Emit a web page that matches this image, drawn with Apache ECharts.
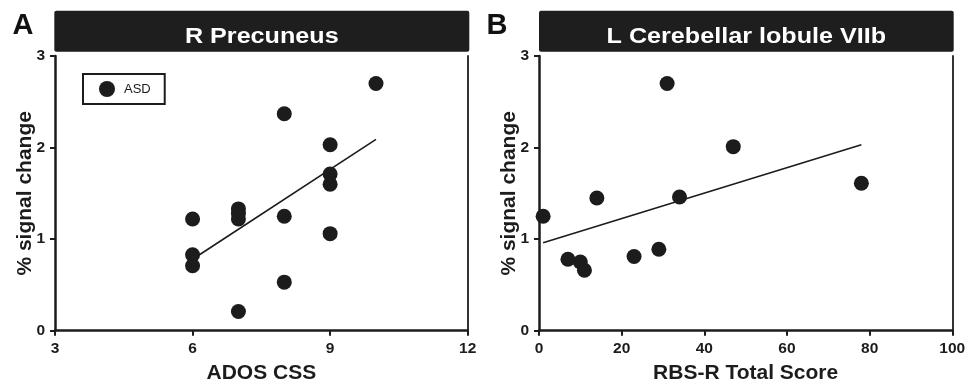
<!DOCTYPE html>
<html>
<head>
<meta charset="utf-8">
<script src="https://cdn.jsdelivr.net/npm/echarts@6/dist/echarts.min.js"></script>
<style>html,body{margin:0;padding:0;background:#fff}#c{width:967px;height:381px}</style>
</head>
<body>
<div id="c"></div>
<script>
// ---- data ----
const adosCss = [10, 8, 9, 9, 9, 6, 7, 7, 7, 8, 9, 6, 6, 8, 7];
const precuneusSignal = [2.70, 2.37, 2.03, 1.71, 1.60, 1.22, 1.33, 1.28, 1.22, 1.25, 1.06, 0.83, 0.71, 0.53, 0.21];
const precuneusFitX = [6, 10];
const precuneusFitY = [0.78, 2.09];

const rbsTotal = [31, 47, 78, 14, 34, 1, 7, 10, 11, 23, 29];
const cerebellarSignal = [2.70, 2.01, 1.61, 1.45, 1.46, 1.25, 0.78, 0.75, 0.66, 0.81, 0.89];
const cerebellarFitX = [1, 78];
const cerebellarFitY = [0.96, 2.03];

const panelTitles = ['R Precuneus', 'L Cerebellar lobule VIIb'];
const panelLetters = ['A', 'B'];
const xNames = ['ADOS CSS', 'RBS-R Total Score'];
const yName = '% signal change';
const groupName = 'ASD';

const ink = '#1c1c1c';
const FONT = '"Liberation Sans", Arial, Helvetica, sans-serif';

function pairs(xs, ys) { return xs.map((x, i) => [x, ys[i]]); }

const chart = echarts.init(document.getElementById('c'), null, {renderer: 'canvas'});

function xAxisCfg(gi, min, max, interval, name) {
  return {
    gridIndex: gi, type: 'value', min, max, interval,
    name, nameLocation: 'middle', nameGap: 32,
    nameTextStyle: {fontFamily: FONT, fontWeight: 'bold', fontSize: 21, color: ink},
    axisLine: {show: true, onZero: false, lineStyle: {color: ink, width: 2.5}},
    axisTick: {show: true, length: 5, lineStyle: {color: ink, width: 2}},
    axisLabel: {margin: 10, fontFamily: FONT, fontWeight: 'bold', fontSize: 15.5, color: ink},
    splitLine: {show: false}
  };
}
function yAxisCfg(gi) {
  return {
    gridIndex: gi, type: 'value', min: 0, max: 3, interval: 1,
    name: yName, nameLocation: 'middle', nameGap: 19, nameMoveOverlap: false,
    nameTextStyle: {fontFamily: FONT, fontWeight: 'bold', fontSize: 21, color: ink},
    axisLine: {show: true, onZero: false, lineStyle: {color: ink, width: 2.5}},
    axisTick: {show: true, length: 5, lineStyle: {color: ink, width: 2}},
    axisLabel: {margin: 10, fontFamily: FONT, fontWeight: 'bold', fontSize: 15.5, color: ink},
    splitLine: {show: false}
  };
}
function rightBorder(gi) {
  return {
    gridIndex: gi, type: 'value', min: 0, max: 3, position: 'right',
    axisLine: {show: true, onZero: false, lineStyle: {color: '#333', width: 2}},
    axisTick: {show: false}, axisLabel: {show: false}, splitLine: {show: false}
  };
}

const titleBars = [[54.3, 469.3], [539, 953.7]];
const graphics = [];
titleBars.forEach((b, i) => {
  graphics.push({
    type: 'rect', shape: {x: b[0], y: 10.7, width: b[1] - b[0], height: 41, r: 2},
    style: {fill: '#1e1e1e'}, z: 10
  });
  graphics.push({
    type: 'text', x: (b[0] + b[1]) / 2, y: 37, scaleX: 1.17, z: 11,
    style: {text: panelTitles[i], fill: '#fff', font: 'bold 21.5px ' + FONT,
            textAlign: 'center', textVerticalAlign: 'middle'}
  });
});
[[12.5, 'A'], [486.5, 'B']].forEach((p, i) => {
  graphics.push({
    type: 'text', x: p[0], y: 26, z: 11,
    style: {text: panelLetters[i], fill: '#111', font: 'bold 29px ' + FONT,
            textAlign: 'left', textVerticalAlign: 'middle'}
  });
});

chart.setOption({
  animation: false,
  backgroundColor: '#fff',
  textStyle: {fontFamily: FONT},
  grid: [
    {left: 55, top: 56, width: 412.7, height: 274.7, containLabel: false, outerBoundsMode: 'none'},
    {left: 539, top: 56, width: 413.3, height: 274.7, containLabel: false, outerBoundsMode: 'none'}
  ],
  xAxis: [xAxisCfg(0, 3, 12, 3, xNames[0]), xAxisCfg(1, 0, 100, 20, xNames[1])],
  yAxis: [yAxisCfg(0), rightBorder(0), yAxisCfg(1), rightBorder(1)],
  legend: {
    data: [{name: groupName, icon: 'circle', itemStyle: {color: ink, opacity: 1}}],
    left: 83, top: 74, orient: 'horizontal',
    padding: [7, 14, 7, 16],
    itemWidth: 16, itemHeight: 16,
    borderColor: ink, borderWidth: 2, borderRadius: 0,
    textStyle: {fontFamily: FONT, fontSize: 13, color: ink, padding: [0, 0, 0, 4]},
    selectedMode: false
  },
  graphic: graphics,
  series: [
    {
      name: groupName, type: 'scatter', xAxisIndex: 0, yAxisIndex: 0,
      symbol: 'circle', symbolSize: 15, itemStyle: {color: ink, opacity: 1},
      data: pairs(adosCss, precuneusSignal), z: 3
    },
    {
      name: 'fitA', type: 'line', xAxisIndex: 0, yAxisIndex: 0,
      showSymbol: false, symbol: 'none', lineStyle: {color: ink, width: 1.6},
      data: pairs(precuneusFitX, precuneusFitY), z: 2
    },
    {
      name: groupName, type: 'scatter', xAxisIndex: 1, yAxisIndex: 2,
      symbol: 'circle', symbolSize: 15, itemStyle: {color: ink, opacity: 1},
      data: pairs(rbsTotal, cerebellarSignal), z: 3
    },
    {
      name: 'fitB', type: 'line', xAxisIndex: 1, yAxisIndex: 2,
      showSymbol: false, symbol: 'none', lineStyle: {color: ink, width: 1.6},
      data: pairs(cerebellarFitX, cerebellarFitY), z: 2
    }
  ]
});
</script>
</body>
</html>
